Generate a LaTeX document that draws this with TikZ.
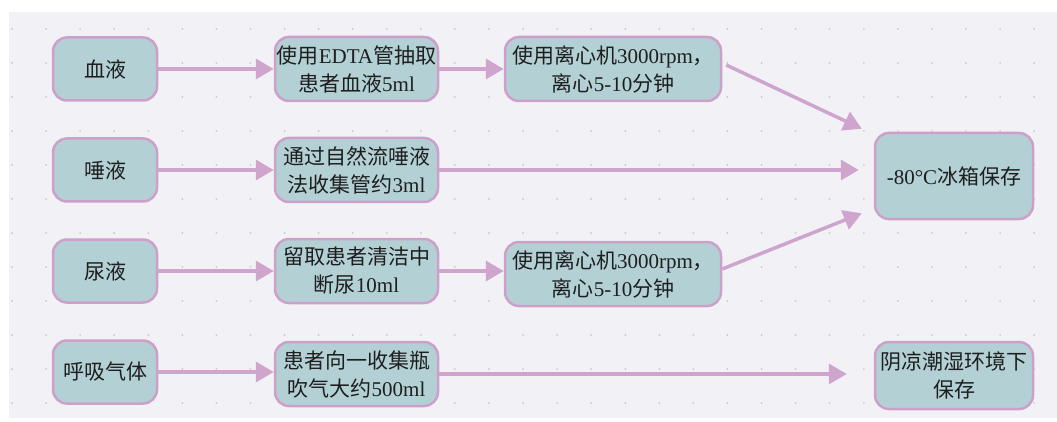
\documentclass[tikz,border=0pt]{standalone}
\usepackage{fontspec}
\setmainfont{Liberation Serif}
\newfontfamily\cjk{Noto Sans CJK SC}
\usetikzlibrary{arrows.meta}
\definecolor{bg}{HTML}{F2F2F6}
\definecolor{boxfill}{HTML}{B3D1D5}
\definecolor{boxline}{HTML}{CDA0CA}
\definecolor{arr}{HTML}{CFA4CD}
\definecolor{dotc}{HTML}{C8C8D0}
\definecolor{txt}{HTML}{1E1E1E}
\begin{document}
\begin{tikzpicture}[x=1pt,y=-1pt,
  box/.style={draw=boxline, line width=2.5pt, fill=boxfill, rounded corners=14pt,
    inner sep=0pt, align=center, text=txt, font=\fontsize{21}{28}\selectfont},
  srcbox/.style={box, minimum width=104pt, minimum height=63pt},
  midbox/.style={box, minimum width=163pt, minimum height=64pt},
  cfgbox/.style={box, minimum width=216pt, minimum height=64pt},
  endbox/.style={box, minimum width=158pt},
  link/.style={draw=arr, line width=3.5pt, -{Triangle[length=18pt,width=20pt]}}]
\useasboundingbox (0,0) rectangle (1057,422);
\fill[white] (0,0) rectangle (1057,422);
\fill[bg] (9,12) rectangle (1057,418);
\foreach \i in {0,...,30} \foreach \j in {0,...,11} \fill[dotc] (12+34.07*\i, 29+34*\j) circle (1pt);

% column A
\node[srcbox] (a1) at (105,69)  {\cjk 血液};
\node[srcbox] (a2) at (105,170) {\cjk 唾液};
\node[srcbox] (a3) at (105,271) {\cjk 尿液};
\node[srcbox] (a4) at (105,372) {\cjk 呼吸气体};

% column B
\node[midbox] (b1) at (356.5,69)  {{\cjk 使用}EDTA{\cjk 管抽取}\\{\cjk 患者血液}5ml};
\node[midbox] (b2) at (356.5,170) {{\cjk 通过自然流唾液}\\{\cjk 法收集管约}3ml};
\node[midbox] (b3) at (356.5,271) {{\cjk 留取患者清洁中}\\{\cjk 断尿}10ml};
\node[midbox] (b4) at (356.5,374) {{\cjk 患者向一收集瓶}\\{\cjk 吹气大约}500ml};

% column C
\node[cfgbox] (c1) at (613,69)  {{\cjk 使用离心机}3000rpm{\cjk ，}\\{\cjk 离心}5-10{\cjk 分钟}};
\node[cfgbox] (c3) at (613,274) {{\cjk 使用离心机}3000rpm{\cjk ，}\\{\cjk 离心}5-10{\cjk 分钟}};

% column D
\node[endbox, minimum height=86pt] (d1) at (954,176) {-80°C{\cjk 冰箱保存}};
\node[endbox, minimum height=67pt] (d2) at (954,375.5) {{\cjk 阴凉潮湿环境下}\\{\cjk 保存}};

% connectors
\draw[link] (a1) -- (b1);
\draw[link] (b1) -- (c1);
\draw[link] (a2) -- (b2);
\draw[link] (a3) -- (b3);
\draw[link] (b3.east) -- (b3.east -| c3.west);
\draw[link] (a4) -- (b4.west |- a4);
\draw[link] ([xshift=4pt,yshift=4pt]c1.east) -- ([xshift=-12pt,yshift=3pt]d1.north west);
\draw[link, shorten >=15pt] (b2.east) -- (b2.east -| d1.west);
\draw[link] ([yshift=5pt]c3.east) -- ([xshift=-12pt,yshift=7pt]d1.south west);
\draw[link, shorten >=27pt] (b4.east) -- (b4.east -| d2.west);
\end{tikzpicture}
\end{document}
